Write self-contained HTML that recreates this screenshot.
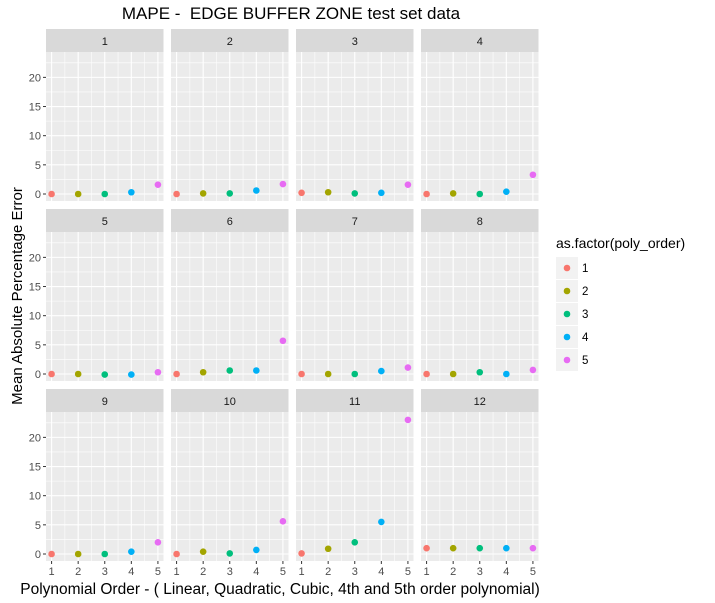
<!DOCTYPE html>
<html><head><meta charset="utf-8"><style>
body{margin:0;background:#fff;}
svg{display:block;font-family:"Liberation Sans",Arial,sans-serif;}
text{white-space:pre;}
</style></head><body>
<svg id="chart" width="715" height="603" viewBox="0 0 715 603">
<text x="291" y="19" font-size="17" text-anchor="middle" fill="#000" xml:space="preserve">MAPE -  EDGE BUFFER ZONE test set data</text>
<text transform="translate(22,296) rotate(-90)" font-size="15" text-anchor="middle" fill="#000">Mean Absolute Percentage Error</text>
<text x="280" y="594" font-size="15.5" text-anchor="middle" fill="#000">Polynomial Order - ( Linear, Quadratic, Cubic, 4th and 5th order polynomial)</text>
<g id="panels"></g>
<g id="legend"></g>
</svg>
<script>
const facets = ["1","2","3","4","5","6","7","8","9","10","11","12"];
const orders = [1,2,3,4,5];
const mape = [
 [0,0,0,0.3,1.6],
 [0,0.1,0.1,0.6,1.7],
 [0.2,0.3,0.1,0.2,1.6],
 [0,0.1,0,0.4,3.3],
 [0,0,-0.1,-0.1,0.3],
 [0,0.3,0.6,0.6,5.7],
 [0,0,0,0.5,1.1],
 [0,0,0.3,0,0.7],
 [0,0,0,0.4,2.0],
 [0,0.4,0.1,0.7,5.6],
 [0.1,0.9,2.0,5.5,23.0],
 [1,1,1,1,1]
];
const yTicks = [0,5,10,15,20];
const yMinor = [2.5,7.5,12.5,17.5,22.5];
const xMinor = [1.5,2.5,3.5,4.5];
const colors = ["#F8766D","#A3A500","#00BF7D","#00B0F6","#E76BF3"];

const NS="http://www.w3.org/2000/svg";
function mk(tag,attrs,parent){const e=document.createElementNS(NS,tag);for(const k in attrs)e.setAttribute(k,attrs[k]);parent.appendChild(e);return e;}
const colX=[46,171,296,421], PW=117.5, rowY=[29,209,389], SH=23, PH=149;
const xMin=0.79,xMax=5.21,yMin=-1.2,yMax=24.35;
const g=document.getElementById('panels');
facets.forEach((f,i)=>{
  const c=i%4,r=Math.floor(i/4);
  const x0=colX[c], sy=rowY[r], py=sy+SH;
  const sx=v=>x0+(v-xMin)/(xMax-xMin)*PW;
  const syf=v=>py+PH-(v-yMin)/(yMax-yMin)*PH;
  const pg=mk('g',{},g);
  
  
  const st=mk('rect',{x:x0,y:sy,width:PW,height:SH,fill:'#D9D9D9'},pg);
  
  
  const stt=mk('text',{x:x0+PW/2,y:sy+16,'font-size':11,'text-anchor':'middle',fill:'#1A1A1A'},pg);
  stt.textContent=f;
  
  
  mk('rect',{x:x0,y:py,width:PW,height:PH,fill:'#EBEBEB'},pg);
  yMinor.forEach(v=>mk('line',{x1:x0,x2:x0+PW,y1:syf(v),y2:syf(v),stroke:'#fff','stroke-width':0.55},pg));
  xMinor.forEach(v=>mk('line',{x1:sx(v),x2:sx(v),y1:py,y2:py+PH,stroke:'#fff','stroke-width':0.55},pg));
  yTicks.forEach(v=>mk('line',{x1:x0,x2:x0+PW,y1:syf(v),y2:syf(v),stroke:'#fff','stroke-width':1.1},pg));
  orders.forEach(v=>mk('line',{x1:sx(v),x2:sx(v),y1:py,y2:py+PH,stroke:'#fff','stroke-width':1.1},pg));
  if(c===0){yTicks.forEach(v=>{
    mk('line',{x1:x0-3,x2:x0,y1:syf(v),y2:syf(v),stroke:'#333','stroke-width':1},pg);
    const t=mk('text',{x:x0-5,y:syf(v)+4,'font-size':11,'text-anchor':'end',fill:'#4D4D4D'},pg);t.textContent=v;
    
    
  });}
  if(r===2){orders.forEach(v=>{
    mk('line',{x1:sx(v),x2:sx(v),y1:py+PH,y2:py+PH+3,stroke:'#333','stroke-width':1},pg);
    const t=mk('text',{x:sx(v),y:py+PH+14,'font-size':11,'text-anchor':'middle',fill:'#4D4D4D'},pg);t.textContent=v;
    
    
  });}
  orders.forEach((o,j)=>{
    const p=mk('circle',{cx:sx(o),cy:syf(mape[i][j]),r:3.3,fill:colors[j]},pg);
    
    
  });
});
const lg=document.getElementById('legend');
const lt=mk('text',{x:556,y:248,'font-size':14,fill:'#000'},lg);lt.textContent='as.factor(poly_order)';


orders.forEach((o,j)=>{
  const y=257+j*23;
  const e=mk('g',{},lg);
  
  
  mk('rect',{x:556,y:y,width:22,height:22,fill:'#F2F2F2'},e);
  mk('circle',{cx:567,cy:y+11,r:3.3,fill:colors[j]},e);
  const t=mk('text',{x:582,y:y+15,'font-size':11.5,fill:'#000'},e);t.textContent=o;
});
</script>
</body></html>
